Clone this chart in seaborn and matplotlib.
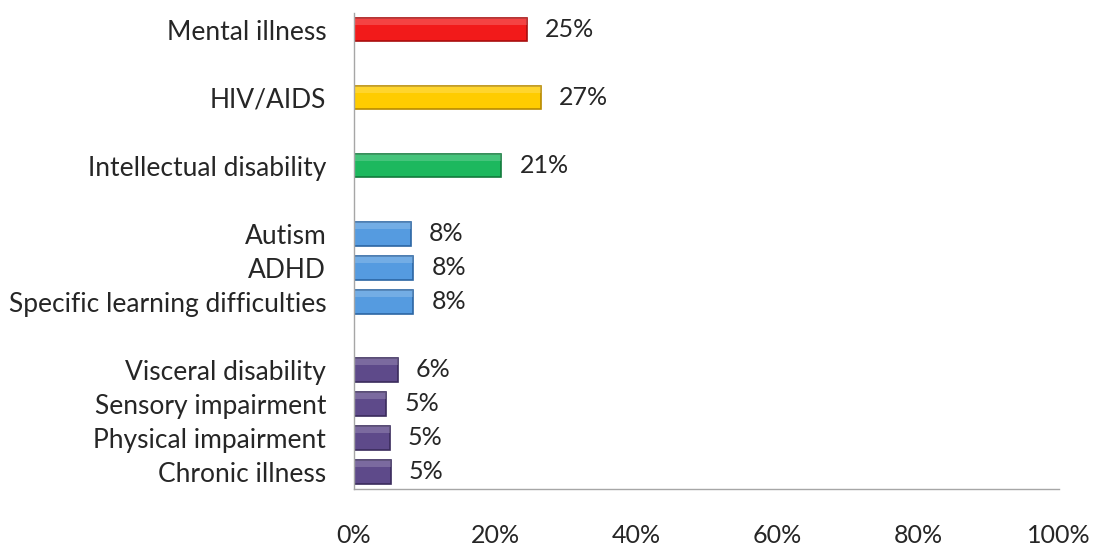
import pandas as pd
import seaborn as sns
import matplotlib.pyplot as plt
from matplotlib.patches import Rectangle
from matplotlib.ticker import FixedLocator

# Data
categories = ["Mental illness", "HIV/AIDS", "Intellectual disability",
              "Autism", "ADHD", "Specific learning difficulties",
              "Visceral disability", "Sensory impairment",
              "Physical impairment", "Chronic illness"]
values = [24.5, 26.5, 20.9, 8.1, 8.4, 8.4, 6.2, 4.6, 5.1, 5.2]
labels = ["25%", "27%", "21%", "8%", "8%", "8%", "6%", "5%", "5%", "5%"]
groups = ["mental", "hiv", "intellectual", "dev", "dev", "dev",
          "phys", "phys", "phys", "phys"]

# Empty slots separate the groups
order = ["Mental illness", " ", "HIV/AIDS", "  ", "Intellectual disability", "   ",
         "Autism", "ADHD", "Specific learning difficulties", "    ",
         "Visceral disability", "Sensory impairment",
         "Physical impairment", "Chronic illness"]

palette = {"mental": "#F21A1A", "hiv": "#FFCC00", "intellectual": "#1DB85E",
           "dev": "#559BE0", "phys": "#5E4A8A"}
edges = {"mental": "#A80E0E", "hiv": "#B88A00", "intellectual": "#127A3C",
         "dev": "#2C66A3", "phys": "#3A2B5C"}

df = pd.DataFrame({"category": categories, "value": values, "group": groups})

sns.set_style("white")
plt.rcParams["font.family"] = ["Lato", "DejaVu Sans"]
text_color = "#262626"
fs = 18

fig = plt.figure(figsize=(10.94, 5.46), dpi=100)
ax = fig.add_axes([0.3236, 0.1044, 0.6445, 0.872])

sns.barplot(data=df, x="value", y="category", hue="group", order=order,
            palette=palette, width=0.68, legend=False, dodge=False,
            saturation=1, ax=ax)

# darker edges and a light top band for a bevel-like look
for container, grp in zip(ax.containers, df["group"].unique()):
    for bar in container:
        bar.set_edgecolor(edges[grp])
        bar.set_linewidth(1.2)
        if bar.get_width() > 0:
            x0, y0 = bar.get_x(), bar.get_y()
            w, h = bar.get_width(), bar.get_height()
            ax.add_patch(Rectangle((x0, y0), w, h * 0.3, facecolor="white",
                                   alpha=0.18, linewidth=0, zorder=bar.get_zorder() + 0.1))

# value labels
lab_map = dict(zip(categories, labels))
for container in ax.containers:
    texts = []
    for bar in container:
        y = bar.get_y() + bar.get_height() / 2
        idx = int(round(y))
        texts.append(lab_map.get(order[idx], ""))
    ax.bar_label(container, labels=texts, padding=13, fontsize=fs, color=text_color)

ax.set_xlim(0, 100)
ax.set_ylim(13.5, -0.5)
ax.set_xticks([0, 20, 40, 60, 80, 100])
ax.set_xticklabels(["0%", "20%", "40%", "60%", "80%", "100%"])
ax.set_xlabel("")
ax.set_ylabel("")

ax.tick_params(axis="x", length=0, pad=25, labelsize=fs, colors=text_color)
ax.tick_params(axis="y", which="major", length=0, pad=20, labelsize=19, colors=text_color)
ax.yaxis.set_minor_locator(FixedLocator([i + 0.5 for i in range(14)]))
ax.tick_params(axis="y", which="minor", length=6, width=1, color="#A6A6A6", direction="out")

for side in ["top", "right"]:
    ax.spines[side].set_visible(False)
for side in ["left", "bottom"]:
    ax.spines[side].set_color("#A6A6A6")
    ax.spines[side].set_linewidth(1)
ax.grid(False)

fig.savefig("out.png", dpi=100)
